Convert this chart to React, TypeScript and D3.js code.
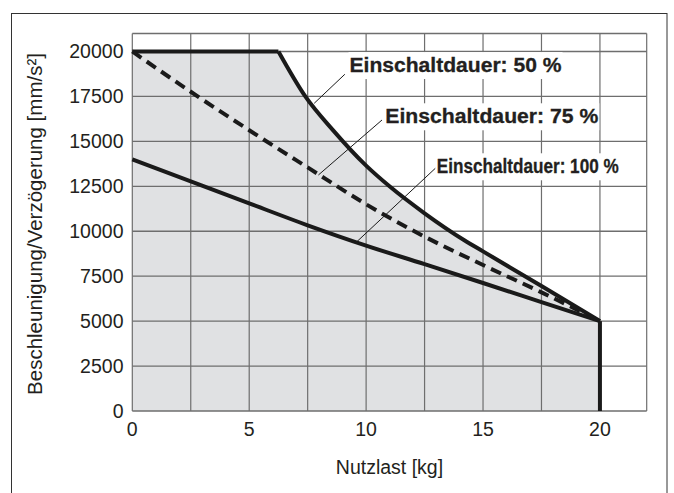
import React from "react";
import * as d3 from "d3";

const yTicks = [0, 2500, 5000, 7500, 10000, 12500, 15000, 17500, 20000];
const xTicks = [0, 5, 10, 15, 20];
const xGrid = [0, 2.5, 5, 7.5, 10, 12.5, 15, 17.5, 20, 22];
const yGrid = [0, 2500, 5000, 7500, 10000, 12500, 15000, 17500, 20000, 21000];

// Einschaltdauer 50 %: flat part then curve
const ed50FlatX = [0, 6.25];
const ed50FlatY = [20000, 20000];
const ed50X = [6.25, 7.4, 8.6, 10, 11, 12.5, 14.2, 15, 17.5, 20];
const ed50Y = [20000, 17500, 15600, 13650, 12500, 11000, 9500, 8880, 6950, 5000];

// Einschaltdauer 75 % (dashed)
const ed75X = [0, 2.5, 5, 7.5, 10, 12.5, 15, 17.5, 20];
const ed75Y = [20000, 17760, 15620, 13550, 11500, 9700, 8120, 6600, 5000];

// Einschaltdauer 100 %
const ed100X = [0, 2.5, 5, 7.5, 10, 12.5, 15, 17.5, 20];
const ed100Y = [14000, 12770, 11550, 10330, 9200, 8170, 7120, 6060, 5000];

const labels = ["Einschaltdauer: 50 %", "Einschaltdauer: 75 %", "Einschaltdauer: 100 %"];
// leader lines: [x1, y1, x2, y2] in data units
const leaders = [
  [7.78, 17118, 9.09, 18732],
  [7.96, 13129, 10.68, 16189],
  [9.53, 9329, 12.96, 13502],
];
const labelPos = [
  [9.29, 18855],
  [10.82, 16005],
  [13.02, 13224],
];

export default function App() {
  const x = d3.scaleLinear().domain([0, 22]).range([132.3, 646.7]);
  const y = d3.scaleLinear().domain([0, 21000]).range([411, 33.5]);

  const pts = (xs: number[], ys: number[]) => xs.map((v, i) => [v, ys[i]] as [number, number]);
  const curve = d3
    .line<[number, number]>()
    .x((d) => x(d[0]))
    .y((d) => y(d[1]))
    .curve(d3.curveMonotoneX);
  const straight = d3
    .line<[number, number]>()
    .x((d) => x(d[0]))
    .y((d) => y(d[1]));

  const p50 = curve(pts(ed50X, ed50Y)) || "";
  const fillPath =
    `M${x(0)},${y(0)}L${x(ed50FlatX[0])},${y(ed50FlatY[0])}L` +
    p50.slice(1) +
    `L${x(20)},${y(0)}Z`;

  const font = "'Liberation Sans', Arial, Helvetica, sans-serif";
  const textColor = "#231f20";
  const gridColor = "#6e6e6e";
  const labelW = [212, 213, 182];

  return (
    <svg
      width={674}
      height={493}
      style={{ position: "absolute", left: 0, top: 0, background: "#fff" }}
    >
      <rect x={11.5} y={13.5} width={655.5} height={500} fill="none" stroke="#333" strokeWidth={1} />
      <path d={fillPath} fill="#e0e1e3" />
      {xGrid.map((v) => (
        <line key={"gx" + v} x1={x(v)} x2={x(v)} y1={y(0)} y2={y(21000)} stroke={gridColor} strokeWidth={1.2} />
      ))}
      {yGrid.map((v) => (
        <line key={"gy" + v} x1={x(0)} x2={x(22)} y1={y(v)} y2={y(v)} stroke={gridColor} strokeWidth={1.3} />
      ))}
      {/* curves */}
      <path d={straight(pts(ed50FlatX, ed50FlatY)) || ""} fill="none" stroke="#1a1a1a" strokeWidth={4} />
      <path d={p50} fill="none" stroke="#1a1a1a" strokeWidth={4} />
      <path d={curve(pts(ed75X, ed75Y)) || ""} fill="none" stroke="#1a1a1a" strokeWidth={4} strokeDasharray="11,6.5" />
      <path d={curve(pts(ed100X, ed100Y)) || ""} fill="none" stroke="#1a1a1a" strokeWidth={4} />
      <line x1={x(20)} x2={x(20)} y1={y(5000)} y2={y(0)} stroke="#1a1a1a" strokeWidth={4} />
      {/* leaders */}
      {leaders.map((l, i) => (
        <line key={"ld" + i} x1={x(l[0])} y1={y(l[1])} x2={x(l[2])} y2={y(l[3])} stroke="#1a1a1a" strokeWidth={1} />
      ))}
      {labels.map((t, i) => (
        <g key={"lb" + i}>
          <rect
            x={x(labelPos[i][0]) - 1}
            y={y(labelPos[i][1]) - 20}
            width={labelW[i] + 2}
            height={27}
            fill="#fff"
          />
          <text
            x={x(labelPos[i][0])}
            y={y(labelPos[i][1])}
            fontFamily={font}
            fontWeight="bold"
            fontSize={i === 2 ? 19.5 : 20}
            fill={textColor}
            stroke={textColor}
            strokeWidth={0.3}
            textLength={labelW[i]}
            lengthAdjust="spacingAndGlyphs"
          >
            {t}
          </text>
        </g>
      ))}
      {/* y tick labels */}
      {yTicks.map((v) => (
        <text
          key={"yt" + v}
          x={123.5}
          y={y(v)}
          dy="0.35em"
          textAnchor="end"
          fontFamily={font}
          fontSize={19.5}
          fill={textColor}
        >
          {v}
        </text>
      ))}
      {xTicks.map((v) => (
        <text
          key={"xt" + v}
          x={x(v)}
          y={436}
          textAnchor="middle"
          fontFamily={font}
          fontSize={19.5}
          fill={textColor}
        >
          {v}
        </text>
      ))}
      <text x={389.5} y={474.3} textAnchor="middle" fontFamily={font} fontSize={19.5} fill={textColor}>
        Nutzlast [kg]
      </text>
      <text
        transform={`translate(42.3,224) rotate(-90)`}
        textAnchor="middle"
        fontFamily={font}
        fontSize={20.5}
        fill={textColor}
      >
        Beschleunigung/Verzögerung [mm/s²]
      </text>
    </svg>
  );
}
